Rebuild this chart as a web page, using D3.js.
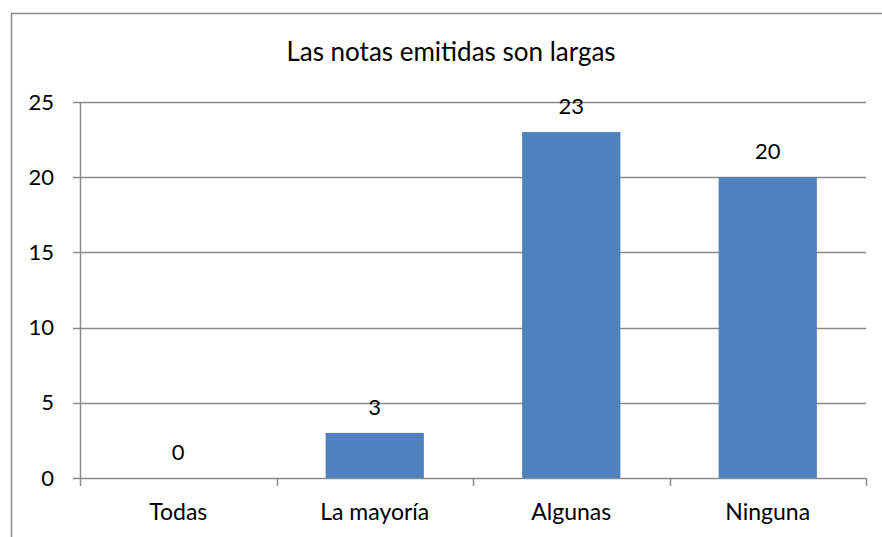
<!DOCTYPE html>
<html>
<head>
<meta charset="utf-8">
<script src="https://cdn.jsdelivr.net/npm/d3@7"></script>
<style>
  body { margin: 0; background: white; }
  text { font-family: Lato, "Open Sans", sans-serif; fill: #000; }
</style>
</head>
<body>
<script>
const categories = ['Todas', 'La mayoría', 'Algunas', 'Ninguna'];
const values = [0, 3, 23, 20];
const yTicks = [0, 5, 10, 15, 20, 25];
const title = 'Las notas emitidas son largas';

function main(){
    const width = 882;
    const height = 537;
    const plot = { left: 80, right: 866, top: 102, bottom: 478 };

    const svg = d3.select('body')
        .append('svg')
        .attr('width', width)
        .attr('height', height);

    // outer chart frame (runs off the right and bottom edges)
    svg.append('rect')
        .attr('x', 11.5)
        .attr('y', 13.5)
        .attr('width', 900)
        .attr('height', 600)
        .attr('fill', 'white')
        .attr('stroke', '#8c8c8c')
        .attr('stroke-width', 1.5);

    const xScale = d3.scaleBand()
        .domain(categories)
        .range([plot.left, plot.right])
        .paddingInner(0.5)
        .paddingOuter(0.25);

    const yScale = d3.scaleLinear()
        .domain([0, 25])
        .range([plot.bottom, plot.top]);

    // gridlines
    svg.append('g')
        .selectAll('line')
        .data(yTicks)
        .enter()
        .append('line')
        .attr('x1', plot.left - 7)
        .attr('x2', plot.right)
        .attr('y1', d => Math.round(yScale(d)) + 0.5)
        .attr('y2', d => Math.round(yScale(d)) + 0.5)
        .attr('stroke', '#8a8a8a')
        .attr('stroke-width', 1.5);

    // bars
    svg.append('g')
        .selectAll('rect')
        .data(values)
        .enter()
        .append('rect')
        .attr('x', (d, i) => xScale(categories[i]))
        .attr('y', d => yScale(d))
        .attr('width', xScale.bandwidth())
        .attr('height', d => plot.bottom - yScale(d))
        .attr('fill', '#4f81bd');

    // y axis
    let yAxis = svg.append('g')
        .attr('transform', `translate(${plot.left},0)`)
        .call(d3.axisLeft(yScale).tickValues(yTicks).tickSize(0).tickPadding(26));
    yAxis.select('.domain').attr('stroke', '#8a8a8a').attr('stroke-width', 1.5);
    yAxis.selectAll('text').attr('font-size', '22px').attr('font-family', 'Lato, sans-serif');

    // x axis category ticks
    const step = (plot.right - plot.left) / categories.length;
    const xBoundaries = d3.range(categories.length + 1).map(i => plot.left + i * step);
    svg.append('g')
        .selectAll('line')
        .data(xBoundaries)
        .enter()
        .append('line')
        .attr('x1', d => Math.round(d) + 0.5)
        .attr('x2', d => Math.round(d) + 0.5)
        .attr('y1', plot.bottom)
        .attr('y2', plot.bottom + 8)
        .attr('stroke', '#8a8a8a')
        .attr('stroke-width', 1.5);

    svg.append('g')
        .selectAll('text')
        .data(categories)
        .enter()
        .append('text')
        .attr('x', d => xScale(d) + xScale.bandwidth() / 2)
        .attr('y', 520)
        .attr('text-anchor', 'middle')
        .attr('font-size', '23px')
        .text(d => d);

    // value labels
    svg.append('g')
        .selectAll('text')
        .data(values)
        .enter()
        .append('text')
        .attr('x', (d, i) => xScale(categories[i]) + xScale.bandwidth() / 2)
        .attr('y', d => yScale(d) - 18)
        .attr('text-anchor', 'middle')
        .attr('font-size', '22px')
        .text(d => d);

    svg.append('text')
        .attr('x', 451)
        .attr('y', 61)
        .attr('text-anchor', 'middle')
        .attr('font-size', '26px')
        .text(title);
}

main()
</script>
</body>
</html>
